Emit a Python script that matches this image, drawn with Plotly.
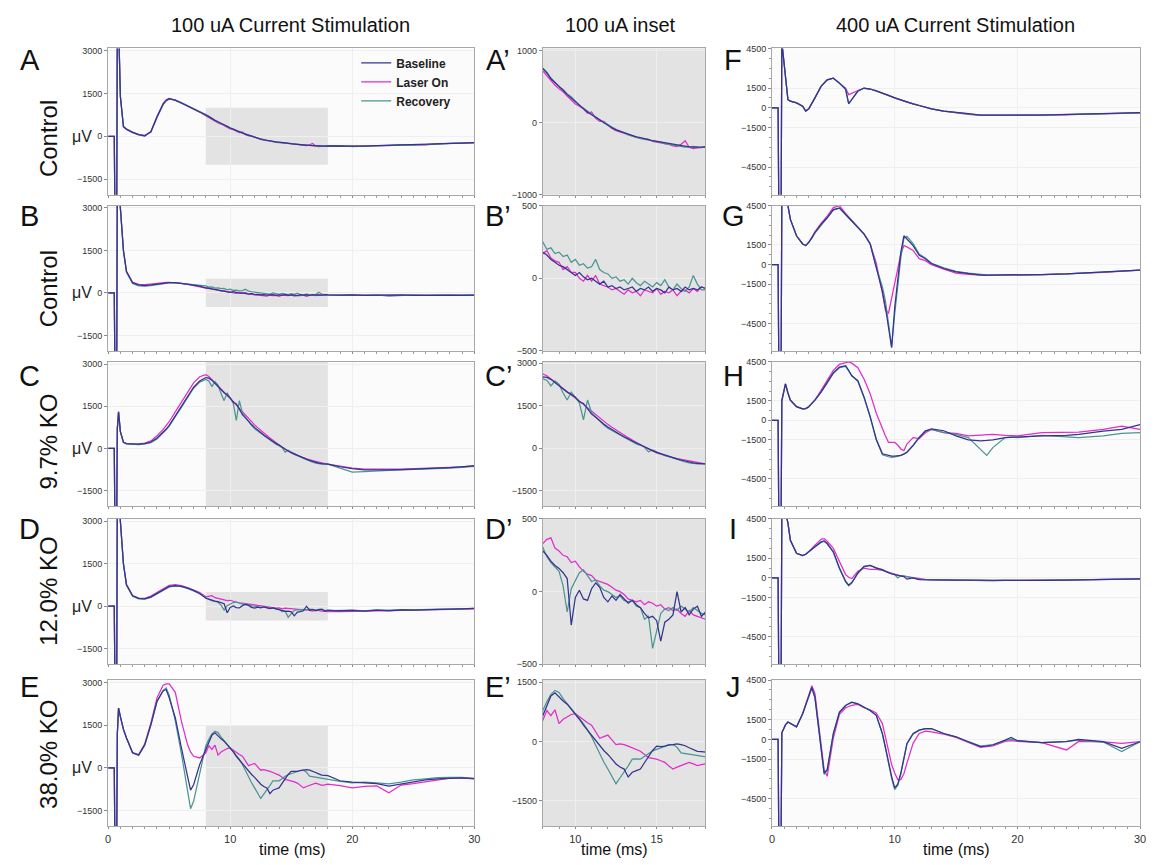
import plotly.graph_objects as go

FIG_W, FIG_H = 1158, 865

# ---------------- time grids (ms) ----------------
T_LEFT = [0, 0.5, 0.55, 0.7, 0.75, 0.85, 1.0, 1.25, 1.5, 2, 2.5, 3, 3.5, 4, 4.5, 4.75, 5, 5.5, 6, 6.5, 6.75, 7, 7.5,
          8, 8.25, 8.5, 8.75, 9, 9.25, 9.5, 9.75, 10, 10.25, 10.5, 10.75, 11, 11.25, 11.5, 11.75, 12, 12.25, 12.5,
          12.75, 13, 13.25, 13.5, 13.75, 14, 14.25, 14.5, 14.75, 15, 15.25, 15.5, 15.75, 16, 16.25, 16.5, 16.75,
          17, 17.25, 17.5, 17.75, 18,
          19, 20, 21, 22, 23, 24, 25, 26, 27, 28, 29, 30]

T_RIGHT = [0, 0.5, 0.55, 0.75, 0.8,
           1.1, 1.3, 1.5, 2, 2.5,
           2.75, 3, 3.25, 3.5, 4,
           4.25, 4.5, 5, 5.5, 6,
           6.25, 6.5, 7, 7.5, 8,
           8.5, 9, 9.25, 9.5, 9.75,
           10, 10.25, 10.5, 10.75, 11,
           11.5, 12, 12.5, 13, 14,
           15, 16, 17, 17.5, 18,
           19, 19.5, 20, 22, 24,
           25, 27, 28.5, 30]

# ---------------- 100 uA recordings (uV) ----------------
A_base = [0, 0, -2600, -2600, 4000, 4000, 1400, 350, 250, 140, 60, 20, 160, 680, 1130, 1260, 1320, 1270, 1170, 1070, 1020, 970, 860,
          750, 690, 610, 560, 510, 450, 390, 340, 290, 250, 200, 150, 110, 80, 40, 0, -40, -70, -100, -120, -145, -160, -180, -195,
          -205, -225, -235, -250, -260, -270, -285, -290, -300, -310, -320, -325, -335, -340, -345, -340, -335,
          -340, -350, -340, -330, -320, -310, -300, -290, -270, -260, -240, -220]
A_laser = [0, 0, -2600, -2600, 4000, 4000, 1400, 330, 240, 130, 50, 10, 170, 700, 1150, 1280, 1330, 1260, 1160, 1060, 1010, 960, 850,
           720, 650, 580, 520, 470, 430, 370, 320, 260, 230, 190, 130, 150, 60, 20, 20, -30, -80, -110, -130, -150, -170, -190, -200,
           -215, -220, -230, -260, -270, -280, -280, -300, -320, -330, -300, -250, -340, -360, -350, -345, -340,
           -350, -345, -345, -320, -330, -300, -290, -300, -260, -250, -250, -230]
A_rec = [0, 0, -2600, -2600, 4000, 4000, 1400, 340, 260, 150, 70, 30, 150, 660, 1100, 1240, 1300, 1270, 1180, 1080, 1030, 980, 870,
         760, 700, 620, 560, 500, 460, 400, 360, 300, 240, 200, 160, 120, 70, 40, 10, -30, -60, -90, -110, -140, -170, -190, -210,
         -220, -230, -240, -240, -250, -270, -290, -300, -310, -320, -330, -340, -335, -330, -340, -345, -330,
         -330, -360, -340, -320, -320, -300, -310, -280, -270, -250, -240, -220]

B_base = [0, 0, -2600, -2600, 4000, 4000, 3000, 1500, 750, 360, 280, 260, 280, 310, 340, 350, 360, 360, 340, 310, 290, 270, 240,
          180, 160, 130, 110, 90, 80, 60, 40, 20, 40, 10, -10, 0, -20, -40, -20, -60, -50, -70, -60, -80, -70, -60, -90,
          -70, -80, -60, -90, -70, -80, -100, -60, -80, -70, -90, -60, -80, -70, -80, -60, -70,
          -80, -70, -90, -80, -80, -70, -90, -80, -70, -80, -90, -80]
B_laser = [0, 0, -2600, -2600, 4000, 4000, 3000, 1500, 760, 370, 300, 290, 310, 340, 360, 370, 370, 360, 340, 300, 280, 260, 230,
           170, 190, 140, 120, 110, 60, 80, 40, 40, 0, -20, 20, -20, 20, -40, -50, -60, -80, -70, -90, -110, -80, -100, -90,
           -120, -80, -90, -100, -70, -110, -90, -100, -80, -120, -90, -80, -100, -70, -90, -60, -70,
           -90, -80, -80, -90, -70, -90, -80, -90, -80, -90, -80, -90]
B_rec = [0, 0, -2600, -2600, 4000, 4000, 3000, 1480, 730, 330, 250, 240, 260, 290, 320, 340, 350, 350, 330, 310, 290, 270, 250,
         250, 200, 210, 170, 180, 150, 160, 110, 130, 90, 100, 70, 80, 130, 60, 40, 30, 0, 10, -20, -10, -40, 0, -30,
         -50, -20, -40, -60, -30, -50, -10, -60, -80, -40, -70, -90, -60, 20, -40, -80, -80,
         -70, -80, -90, -70, -110, -80, -70, -90, -80, -70, -80, -70]

C_base = [0, 0, -2600, -2600, 700, 1300, 600, 220, 170, 150, 150, 170, 230, 370, 570, 690, 820, 1150, 1500, 1850, 2020, 2180, 2400,
          2520, 2500, 2430, 2320, 2200, 2090, 1980, 1900, 1800, 1650, 1580, 1400, 1200, 1090, 960, 850, 750, 650, 560, 480,
          400, 320, 240, 180, 120, 40, -20, -90, -150, -200, -250, -280, -330, -380, -420, -460, -480, -520, -540, -550, -560,
          -650, -720, -760, -770, -760, -750, -740, -720, -700, -680, -660, -620]
C_laser = [0, 0, -2600, -2600, 700, 1300, 600, 220, 170, 150, 160, 190, 270, 450, 680, 810, 950, 1300, 1650, 2000, 2170, 2330, 2550,
           2620, 2560, 2450, 2350, 2240, 2130, 2010, 1900, 1790, 1660, 1540, 1420, 1290, 1180, 1060, 950, 840, 740, 640, 550,
           450, 370, 290, 200, 110, 40, -30, -100, -170, -210, -260, -300, -335, -370, -400, -430, -450, -480, -510, -540, -560,
           -640, -700, -730, -740, -730, -730, -720, -700, -690, -670, -650, -610]
C_rec = [0, 0, -2600, -2600, 700, 1300, 600, 220, 160, 140, 140, 160, 210, 340, 540, 660, 790, 1110, 1460, 1810, 1980, 2140, 2360,
         2450, 2400, 2200, 2380, 2250, 1950, 1700, 1980, 1800, 1600, 1000, 1700, 1250, 1100, 980, 820, 700, 620, 530, 460,
         380, 300, 230, 150, 100, 30, -130, -60, -130, -190, -270, -300, -350, -400, -440, -490, -520, -540, -560, -550, -560,
         -700, -840, -820, -790, -780, -760, -750, -740, -720, -700, -670, -640]

D_base = [0, 0, -2600, -2600, 4000, 4000, 3000, 1500, 760, 370, 280, 260, 330, 450, 600, 660, 700, 730, 700, 640, 600, 560, 450,
          280, 250, 210, 180, 160, 130, 90, -230, -40, 10, -50, -60, 20, 60, 30, -40, -70, -30, -60, -20,
          -50, -80, -60, -90, -110, -150, -180, -170, -200, -340, -210, -190, -160, 0, -140, -110, -160, -120, -100, -170, -140,
          -160, -150, -170, -140, -160, -130, -140, -120, -110, -100, -90, -80]
D_laser = [0, 0, -2600, -2600, 4000, 4000, 3000, 1500, 770, 380, 290, 280, 360, 490, 640, 700, 740, 760, 730, 660, 620, 580, 480,
           330, 360, 370, 300, 280, 250, 240, 200, 210, 170, 140, 120, 110, 80, 70, 60, 50, 30, 10, 0,
           -20, -50, -60, -70, -60, -90, -70, -80, -100, -90, -120, -110, -130, -120, -150, -170, -130, -160, -170, -180, -190,
           -190, -180, -190, -170, -150, -150, -130, -130, -120, -100, -90, -90]
D_rec = [0, 0, -2600, -2600, 4000, 4000, 3000, 1480, 740, 350, 260, 250, 310, 430, 580, 640, 680, 710, 690, 630, 590, 540, 440,
         300, 240, 200, 170, 140, 40, -140, 20, 80, 130, 150, 110, 70, 80, 40, 10, 0, -20, -40, -30,
         -60, -70, -60, -100, -110, -190, -170, -390, -260, -150, -120, -130, -110, -130, -100, -120, -140, -110, -130, -150, -160,
         -150, -140, -160, -130, -140, -120, -130, -110, -100, -100, -80, -80]

E_base = [0, 0, -2600, -2600, 1200, 2100, 1800, 1350, 1050, 530, 450, 820, 1520, 2340, 2700, 2750, 2460, 1760, 700, -350, -780, -590, 120,
          650, 900, 1150, 1230, 1120, 1020, 940, 820, 700, 560, 410, 280, 160, 20, -120, -230, -330, -450, -570, -650,
          -700, -900, -780, -740, -700, -540, -370, -230, -120, -130, -120, -90, -80, -60, -80, -110, -160, -210, -250, -260, -270,
          -450, -500, -520, -550, -640, -560, -480, -420, -380, -360, -350, -370]
E_laser = [0, 0, -2600, -2600, 1200, 2100, 1800, 1350, 1050, 540, 470, 850, 1580, 2450, 2900, 2950, 2950, 2650, 1640, 820, 560, 410, 350,
           530, 780, 650, 800, 450, 560, 615, 680, 700, 620, 530, 470, 410, 250, 80, 120, 160, 40, -80, -60,
           -80, -120, -160, -200, -250, -330, -410, -430, -450, -490, -530, -620, -700, -650, -610, -570, -530, -570, -610, -590, -570,
           -620, -700, -650, -630, -870, -600, -550, -480, -420, -360, -360, -380]
E_rec = [0, 0, -2600, -2600, 1200, 2100, 1800, 1350, 1050, 520, 440, 800, 1500, 2320, 2720, 2800, 2550, 1650, 500, -800, -1430, -1170, -230,
         780, 1000, 1190, 1290, 1240, 1080, 940, 830, 700, 580, 450, 290, 120, -100, -330, -520, -700, -880, -1070, -920,
         -780, -620, -450, -440, -450, -380, -290, -240, -200, -160, -120, -90, -80, -150, -290, -310, -330, -350, -370, -390, -410,
         -470, -520, -500, -520, -560, -500, -420, -380, -340, -330, -330, -380]

# ---------------- 400 uA recordings (uV) ----------------
F_base = [0, 0, -7000, -7000, 5000, 2500, 625, 500, 375, 125, -250, -75, 300, 750, 1625, 1900, 2125, 2250, 1875, 1400,
          325, 625, 1250, 1500, 1425, 1280, 1125, 1030, 940, 850, 750, 670, 600, 510, 425, 300, 175, 50, -75, -250,
          -375, -450, -550, -560, -560, -560, -560, -560, -550, -520, -500, -450, -420, -375]
F_laser = [0, 0, -7000, -7000, 5000, 2500, 625, 500, 375, 125, -250, -75, 300, 750, 1625, 1900, 2125, 2250, 1875, 1500,
           1000, 1100, 1300, 1500, 1425, 1280, 1125, 1030, 940, 850, 750, 670, 600, 510, 425, 300, 175, 50, -75, -250,
           -400, -500, -570, -580, -570, -580, -560, -560, -550, -530, -500, -450, -420, -380]
F_rec = [0, 0, -7000, -7000, 5000, 2500, 625, 500, 375, 125, -250, -75, 300, 750, 1625, 1900, 2125, 2250, 1875, 1450,
         300, 650, 1300, 1480, 1425, 1280, 1125, 1030, 940, 850, 750, 670, 600, 510, 425, 300, 175, 50, -75, -250,
         -380, -460, -550, -560, -560, -560, -570, -560, -540, -520, -500, -460, -420, -380]

G_base = [0, 0, -7000, -7000, 5000, 5000, 4500, 3450, 2200, 1575, 1450, 1700, 2050, 2450, 3075, 3300, 3575, 4200, 4325, 3825,
          3575, 3325, 2825, 2325, 1575, -300, -2050, -3300, -5000, -6350, -3300, -1000, 950, 2200, 1950, 1450, 700, 450, 75, -300,
          -550, -675, -800, -800, -800, -800, -800, -800, -760, -720, -675, -600, -520, -425]
G_laser = [0, 0, -7000, -7000, 5000, 5000, 4500, 3450, 2200, 1575, 1450, 1700, 2100, 2500, 3150, 3400, 3700, 4350, 4500, 3900,
           3650, 3350, 2850, 2350, 1600, 100, -2200, -3500, -3700, -2500, -1300, -400, 800, 1450, 1350, 1075, 450, 300, 0, -350,
           -650, -750, -820, -820, -820, -820, -820, -810, -760, -720, -675, -600, -520, -425]
G_rec = [0, 0, -7000, -7000, 5000, 5000, 4500, 3450, 2200, 1575, 1450, 1700, 2000, 2400, 3000, 3250, 3550, 4150, 4300, 3850,
         3600, 3350, 2850, 2350, 1600, -200, -1700, -2800, -4500, -6300, -3800, -1500, 500, 2000, 2150, 1600, 800, 500, 100, -250,
         -520, -650, -780, -790, -800, -800, -800, -800, -760, -720, -680, -600, -520, -425]

H_base = [0, 0, -7000, -7000, 1500, 2800, 2100, 1550, 1050, 875, 900, 1050, 1300, 1550, 2175, 2550, 2925, 3675, 4100, 4200,
          3850, 3425, 3050, 1800, 300, -1450, -2575, -2650, -2700, -2750, -2750, -2720, -2700, -2600, -2450, -1950, -1325, -825, -650, -800,
          -1200, -1500, -1575, -1550, -1500, -1325, -1300, -1325, -1200, -1150, -1075, -825, -700, -325]
H_laser = [0, 0, -7000, -7000, 1500, 2800, 2100, 1550, 1050, 875, 900, 1050, 1300, 1550, 2300, 2700, 3100, 3850, 4300, 4450,
           4500, 4400, 4050, 3175, 2050, 550, -700, -1200, -1700, -1700, -1700, -1900, -2200, -2325, -1825, -1325, -1400, -950, -700, -950,
           -1000, -1200, -1150, -1100, -1075, -1150, -1200, -1200, -950, -950, -900, -700, -450, -700]
H_rec = [0, 0, -7000, -7000, 1500, 2800, 2100, 1550, 1050, 875, 900, 1050, 1300, 1550, 2175, 2500, 2850, 3600, 4050, 4150,
         3800, 3450, 3000, 1750, 250, -1500, -2650, -2750, -2800, -2850, -2825, -2780, -2700, -2600, -2450, -1900, -1300, -800, -700, -950,
         -1075, -1325, -2200, -2700, -2100, -1325, -1300, -1325, -1150, -1250, -1325, -1200, -1000, -950]

I_base = [0, 0, -7000, -7000, 5000, 5000, 4200, 2875, 1875, 1700, 1800, 2000, 2200, 2375, 2750, 2825, 2625, 2000, 750, -250,
          -550, -350, 375, 875, 950, 750, 625, 500, 375, 300, 250, 200, 150, 100, -100, 0, -125, -140, -150, -170,
          -175, -180, -190, -190, -200, -200, -190, -200, -190, -170, -150, -120, -100, -75]
I_laser = [0, 0, -7000, -7000, 5000, 5000, 4200, 2875, 1875, 1700, 1800, 2000, 2250, 2500, 2950, 3000, 2800, 2250, 1250, 250,
           50, -50, 500, 750, 650, 650, 580, 500, 400, 320, 270, 220, 160, 120, 80, 20, -80, -120, -150, -170,
           -180, -190, -200, -190, -200, -190, -200, -190, -180, -160, -150, -120, -100, -90]
I_rec = [0, 0, -7000, -7000, 5000, 5000, 4200, 2875, 1875, 1700, 1800, 2000, 2200, 2375, 2700, 2800, 2600, 1950, 700, -300,
         -600, -400, 350, 850, 950, 780, 650, 520, 400, 320, 260, 0, 180, 150, 100, 20, -120, -140, -150, -170,
         -180, -190, -200, -190, -200, -190, -190, -200, -190, -170, -150, -120, -100, -75]

J_base = [0, 0, -7000, -7000, 500, 1100, 1320, 1200, 950, 1950, 2600, 3325, 3950, 3200, -675, -2550, -2300, 450, 2075, 2575,
          2700, 2825, 2700, 2450, 2200, 1825, 450, -600, -1800, -2800, -3675, -3400, -2550, -1400, -300, 450, 700, 825, 825, 450,
          200, -175, -550, -500, -425, -50, 150, -100, -250, -175, 0, -175, -675, -175]
J_laser = [0, 0, -7000, -7000, 500, 1100, 1320, 1200, 950, 1950, 2700, 3450, 4075, 3500, -300, -2300, -2800, 100, 1900, 2400,
           2500, 2575, 2650, 2400, 2250, 2000, 1200, 200, -925, -1900, -2550, -3050, -3050, -2600, -1800, -300, 450, 625, 575, 400,
           150, -200, -600, -550, -500, -150, -100, -150, -250, -800, -150, -180, -300, -175]
J_rec = [0, 0, -7000, -7000, 500, 1100, 1320, 1200, 950, 1950, 2550, 3250, 3900, 3150, -750, -2650, -2350, 400, 2050, 2575,
         2700, 2800, 2700, 2450, 2200, 1825, 400, -700, -1900, -2950, -3800, -3500, -2650, -1500, -350, 400, 700, 825, 800, 450,
         200, -175, -500, -450, -400, -100, 0, -100, -250, -150, -50, -200, -925, -175]

ROW_NAMES = ["Control", "Control", "9.7% KO", "12.0% KO", "38.0% KO"]
LEFT_LETTERS = ["A", "B", "C", "D", "E"]
MID_LETTERS = ["A\u2019", "B\u2019", "C\u2019", "D\u2019", "E\u2019"]
RIGHT_LETTERS = ["F", "G", "H", "I", "J"]
COL_TITLES = ["100 uA Current Stimulation", "100 uA inset", "400 uA Current Stimulation"]
SERIES = ["Baseline", "Laser On", "Recovery"]

LEFT_DATA = [(A_base, A_laser, A_rec), (B_base, B_laser, B_rec), (C_base, C_laser, C_rec),
             (D_base, D_laser, D_rec), (E_base, E_laser, E_rec)]
RIGHT_DATA = [(F_base, F_laser, F_rec), (G_base, G_laser, G_rec), (H_base, H_laser, H_rec),
              (I_base, I_laser, I_rec), (J_base, J_laser, J_rec)]

LEFT_YRANGE = [-2050, 3080]
LEFT_YTICKS = [-1500, 0, 1500, 3000]
INSET_YRANGE = [[-1000, 1030], [-500, 500], [-2050, 3050], [-500, 500], [-2150, 1550]]
INSET_YTICKS = [[-1000, 0, 1000], [-500, 0, 500], [-1500, 0, 1500, 3000], [-500, 0, 500], [-1500, 0, 1500]]
RIGHT_YRANGE = [-6600, 4500]
RIGHT_YTICKS = [-4500, -1500, 0, 1500, 4500]
INSET_WINDOW = [8, 18]
RECT_Y = [(-1000, 1000), (-500, 500), (-2050, 3080), (-500, 500), (-2050, 1500)]

for arr in [d for trip in LEFT_DATA for d in trip]:
    assert len(arr) == len(T_LEFT), len(arr)
for arr in [d for trip in RIGHT_DATA for d in trip]:
    assert len(arr) == len(T_RIGHT), len(arr)

# ---------------- styling ----------------
COLORS = {"Baseline": "#34348e", "Laser On": "#e22ccb", "Recovery": "#4b9592"}
RANK = {"Baseline": 1, "Laser On": 2, "Recovery": 3}
DRAW_ORDER = ["Laser On", "Recovery", "Baseline"]
FONT = "Liberation Sans, Arial, sans-serif"
COL_PX = [(106, 475), (544, 708), (775, 1146)]
ROW_PX = [(44, 192), (203, 350), (361, 507), (520, 667), (683, 831)]
GRAY = "#e3e3e3"


def px_x(p):
    return p / FIG_W


def px_y(p):
    return 1 - p / FIG_H


fig = go.Figure()
layout = {}
shapes = []
annotations = []

for r in range(5):
    for c in range(3):
        n = r * 3 + c + 1
        sfx = "" if n == 1 else str(n)
        xa, ya = "x" + sfx, "y" + sfx
        if c == 2:
            t = T_RIGHT
            data = dict(zip(SERIES, RIGHT_DATA[r]))
        else:
            t = T_LEFT
            data = dict(zip(SERIES, LEFT_DATA[r]))
        for s in DRAW_ORDER:
            fig.add_trace(go.Scatter(
                x=t, y=data[s], mode="lines", name=s,
                line=dict(color=COLORS[s], width=1.25),
                xaxis=xa, yaxis=ya, showlegend=(n == 1), legendrank=RANK[s],
                hoverinfo="skip"))

        x0, x1 = COL_PX[c]
        y0, y1 = ROW_PX[r]
        if c == 0:
            xr, dt, ytv, yr, grid = [0, 30], 10, LEFT_YTICKS, LEFT_YRANGE, "#efefef"
        elif c == 1:
            xr, dt, ytv, yr, grid = INSET_WINDOW, 5, INSET_YTICKS[r], INSET_YRANGE[r], "#eeeeee"
        else:
            xr, dt, ytv, yr, grid = [0, 30], 10, RIGHT_YTICKS, RIGHT_YRANGE, "#efefef"

        layout["xaxis" + sfx] = dict(
            domain=[px_x(x0), px_x(x1)], anchor=ya, range=xr,
            tickmode="linear", tick0=0, dtick=dt, ticks="outside", ticklen=2, tickcolor="#8a8a8a",
            showticklabels=(r == 4), tickfont=dict(family=FONT, size=11, color="#333"),
            showline=True, linecolor="#a8a8a8", linewidth=1, mirror=True,
            showgrid=True, gridcolor=grid, gridwidth=1, zeroline=False,
            minor=dict(tick0=0, dtick=1, ticks="outside", ticklen=2, tickcolor="#9a9a9a", showgrid=False))
        ydict = dict(
            domain=[px_y(y1), px_y(y0)], anchor=xa, range=yr,
            tickmode="array", tickvals=ytv, ticks="outside", ticklen=3, tickcolor="#8a8a8a",
            tickfont=dict(family=FONT, size=9, color="#333"),
            showline=True, linecolor="#a8a8a8", linewidth=1, mirror=True,
            showgrid=True, gridcolor=grid, gridwidth=1, zeroline=False)
        if c == 2:
            ydict["minor"] = dict(tick0=0, dtick=750, ticks="outside", ticklen=2,
                                  tickcolor="#9a9a9a", showgrid=False)
        layout["yaxis" + sfx] = ydict

        # grey highlight of the inset window
        if c == 0:
            shapes.append(dict(type="rect", xref=xa, yref=ya, x0=INSET_WINDOW[0], x1=INSET_WINDOW[1],
                               y0=RECT_Y[r][0], y1=RECT_Y[r][1], fillcolor=GRAY, line=dict(width=0),
                               layer="below"))
        elif c == 1:
            shapes.append(dict(type="rect", xref=xa + " domain", yref=ya + " domain", x0=0, x1=1,
                               y0=0, y1=1, fillcolor=GRAY, line=dict(width=0), layer="below"))

        # uV label beside the zero line of the left column
        if c == 0:
            annotations.append(dict(text="\u03bcV", xref="paper", yref=ya, x=px_x(92), y=0,
                                    xanchor="right", yanchor="middle", showarrow=False,
                                    font=dict(family=FONT, size=16, color="#222")))

# panel letters & row labels
LETTER_Y = [56, 213, 375, 530, 690]
ROW_LABEL_Y = [135, 287, 442, 593, 758]
for r in range(5):
    for txt, xp in [(LEFT_LETTERS[r], 27), (MID_LETTERS[r], 499), (RIGHT_LETTERS[r], 736)]:
        annotations.append(dict(text=txt, xref="paper", yref="paper", x=px_x(xp), y=px_y(LETTER_Y[r]),
                                xanchor="center", yanchor="middle", showarrow=False,
                                font=dict(family=FONT, size=29, color="#111")))
    annotations.append(dict(text=ROW_NAMES[r], xref="paper", yref="paper", x=px_x(46), y=px_y(ROW_LABEL_Y[r]),
                            xanchor="center", yanchor="middle", textangle=-90, showarrow=False,
                            font=dict(family=FONT, size=24, color="#111")))

# column titles and x-axis titles
for txt, xp in zip(COL_TITLES, [290, 622, 960]):
    annotations.append(dict(text=txt, xref="paper", yref="paper", x=px_x(xp), y=px_y(20),
                            xanchor="center", yanchor="middle", showarrow=False,
                            font=dict(family=FONT, size=20, color="#111")))
for xp in [292, 616, 961]:
    annotations.append(dict(text="time (ms)", xref="paper", yref="paper", x=px_x(xp), y=0,
                            xanchor="center", yanchor="bottom", showarrow=False,
                            font=dict(family=FONT, size=16, color="#111")))

fig.update_layout(
    width=FIG_W, height=FIG_H,
    margin=dict(l=0, r=0, t=0, b=0),
    paper_bgcolor="white", plot_bgcolor="#fbfbfb",
    font=dict(family=FONT, color="#222"),
    showlegend=True,
    legend=dict(x=px_x(356), y=px_y(44), xanchor="left", yanchor="top",
                bgcolor="rgba(0,0,0,0)", borderwidth=0, itemwidth=30, tracegroupgap=0,
                font=dict(family=FONT, size=12, color="#222", weight="bold")),
    shapes=shapes, annotations=annotations,
    **layout)

fig.write_html("out.html", config={"displayModeBar": False},
               post_script="document.body.style.margin='0';document.body.style.overflow='hidden';")
